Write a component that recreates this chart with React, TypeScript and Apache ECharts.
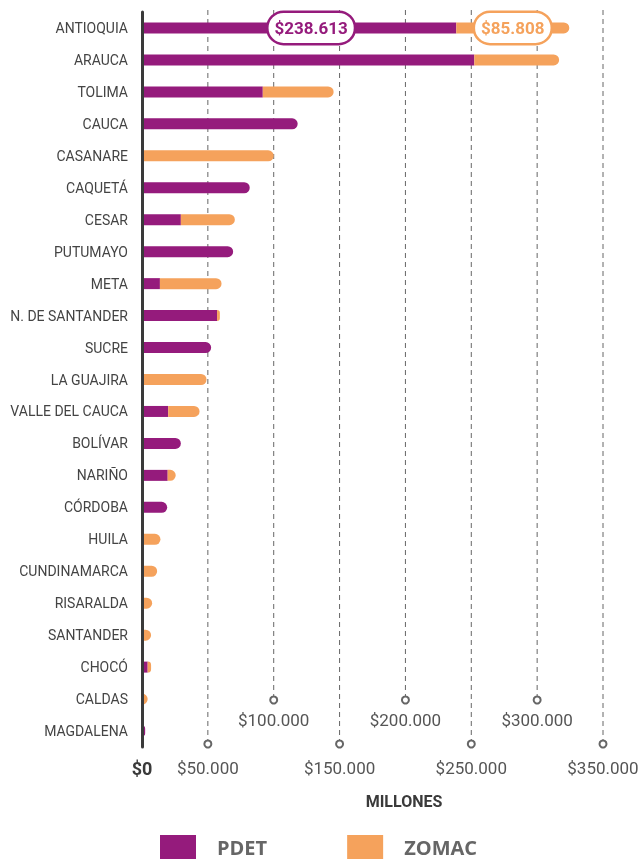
import React, { useEffect, useRef } from "react";
import * as echarts from "echarts";

const categories = [
  "ANTIOQUIA", "ARAUCA", "TOLIMA", "CAUCA", "CASANARE", "CAQUETÁ", "CESAR",
  "PUTUMAYO", "META", "N. DE SANTANDER", "SUCRE", "LA GUAJIRA", "VALLE DEL CAUCA",
  "BOLÍVAR", "NARIÑO", "CÓRDOBA", "HUILA", "CUNDINAMARCA", "RISARALDA",
  "SANTANDER", "CHOCÓ", "CALDAS", "MAGDALENA",
];
const pdet = [
  238613, 252300, 91700, 118200, 0, 81800, 29500,
  69200, 13600, 57000, 52500, 0, 19900,
  29500, 19500, 19100, 0, 0, 0,
  0, 4300, 0, 2400,
];
const zomac = [
  85808, 64400, 53800, 0, 100000, 0, 41000,
  0, 46800, 2100, 0, 49000, 23800,
  0, 6100, 0, 14000, 11500, 7700,
  6900, 2600, 4300, 0,
];
const tickValues = [0, 50000, 100000, 150000, 200000, 250000, 300000, 350000];
const seriesNames = ["PDET", "ZOMAC"];

const PURPLE = "#951b7c";
const ORANGE = "#f5a25c";
const FONT = "Roboto, sans-serif";

const fmt = (v: number) => "$" + String(v).replace(/\B(?=(\d{3})+(?!\d))/g, ".");

export default function App() {
  const ref = useRef<HTMLDivElement>(null);
  useEffect(() => {
    if (!ref.current) return;
    const chart = echarts.init(ref.current, null, { renderer: "svg" });
    const radius = [0, 6, 6, 0];
    const pillLabel = (text: string, color: string) => ({
      show: true,
      position: "inside",
      formatter: text,
      color,
      backgroundColor: "#fff",
      borderColor: color,
      borderWidth: 2.5,
      borderRadius: 16,
      padding: [7, 6, 6, 6],
      fontSize: 17,
      fontWeight: "bold",
      fontFamily: FONT,
    });
    const pdetData = pdet.map((v, i) => {
      const item: any = { value: v, itemStyle: { borderRadius: zomac[i] > 0 ? 0 : radius } };
      if (i === 0) item.label = { ...pillLabel(fmt(v), PURPLE), offset: [12, 0] };
      return item;
    });
    const zomacData = zomac.map((v, i) => {
      const item: any = { value: v, itemStyle: { borderRadius: radius } };
      if (i === 0) item.label = pillLabel(fmt(v), ORANGE);
      return item;
    });
    const gridData = tickValues.map((v, i) => [v, 0, i % 2 === 1 || v === 0 ? 1 : 0]);

    chart.setOption({
      animation: false,
      grid: {
        left: 142,
        top: 12,
        width: 461,
        height: 735,
        containLabel: false,
        outerBoundsMode: "none",
      },
      legend: {
        data: seriesNames,
        left: 155,
        top: 830,
        icon: "rect",
        itemWidth: 36,
        itemHeight: 24,
        itemGap: 80,
        textStyle: {
          fontSize: 20,
          lineHeight: 18,
          fontWeight: "bold",
          color: "#666",
          fontFamily: "'Open Sans', sans-serif",
          padding: [0, 0, 0, 16],
        },
      },
      xAxis: {
        type: "value",
        min: 0,
        max: 350000,
        interval: 50000,
        show: false,
      },
      yAxis: {
        type: "category",
        data: categories,
        inverse: true,
        axisLine: { show: true, lineStyle: { color: "#3a3a3a", width: 3 } },
        axisTick: { show: false },
        axisLabel: {
          margin: 14,
          fontSize: 14,
          color: "#444",
          fontFamily: FONT,
        },
        z: 5,
      },
      graphic: [
        {
          type: "text",
          x: 404,
          y: 801,
          style: {
            text: "MILLONES",
            align: "center",
            verticalAlign: "middle",
            fontSize: 16,
            fontWeight: "bold",
            fill: "#3a3a3a",
            fontFamily: FONT,
          },
        },
      ],
      series: [
        {
          type: "custom",
          z: 1,
          silent: true,
          clip: false,
          data: gridData,
          encode: { x: 0, y: 1 },
          renderItem: (params: any, api: any) => {
            const v = api.value(0);
            const low = api.value(2) === 1;
            const x = api.coord([v, 0])[0];
            const cs = params.coordSys;
            const bottom = cs.y + cs.height;
            const cy = low ? bottom - 3 : bottom - 47;
            const ly = low ? bottom + 21 : bottom - 27;
            const children: any[] = [];
            if (v === 0) {
              children.push({
                type: "text",
                style: {
                  x, y: ly, text: fmt(v), align: "center", verticalAlign: "middle",
                  fontSize: 18, fontWeight: "bold", fill: "#3a3a3a", fontFamily: FONT,
                },
              });
              return { type: "group", children };
            }
            children.push({
              type: "line",
              shape: { x1: x, y1: cs.y - 2, x2: x, y2: cy - 4 },
              style: { stroke: "#666", lineWidth: 1, lineDash: [5, 4] },
            });
            children.push({
              type: "circle",
              shape: { cx: x, cy, r: 3.5 },
              style: { fill: "#fff", stroke: "#666", lineWidth: 2 },
            });
            children.push({
              type: "text",
              style: {
                x, y: ly, text: fmt(v), align: "center", verticalAlign: "middle",
                fontSize: 17, fill: "#555", fontFamily: FONT,
              },
            });
            return { type: "group", children };
          },
        },
        {
          name: seriesNames[0],
          type: "bar",
          stack: "total",
          barWidth: 11,
          z: 2,
          itemStyle: { color: PURPLE },
          data: pdetData,
        },
        {
          name: seriesNames[1],
          type: "bar",
          stack: "total",
          barWidth: 11,
          z: 2,
          itemStyle: { color: ORANGE },
          data: zomacData,
        },
      ],
    });
    return () => chart.dispose();
  }, []);
  return (
    <div
      ref={ref}
      style={{ position: "fixed", left: 0, top: 0, width: 642, height: 859 }}
    />
  );
}
